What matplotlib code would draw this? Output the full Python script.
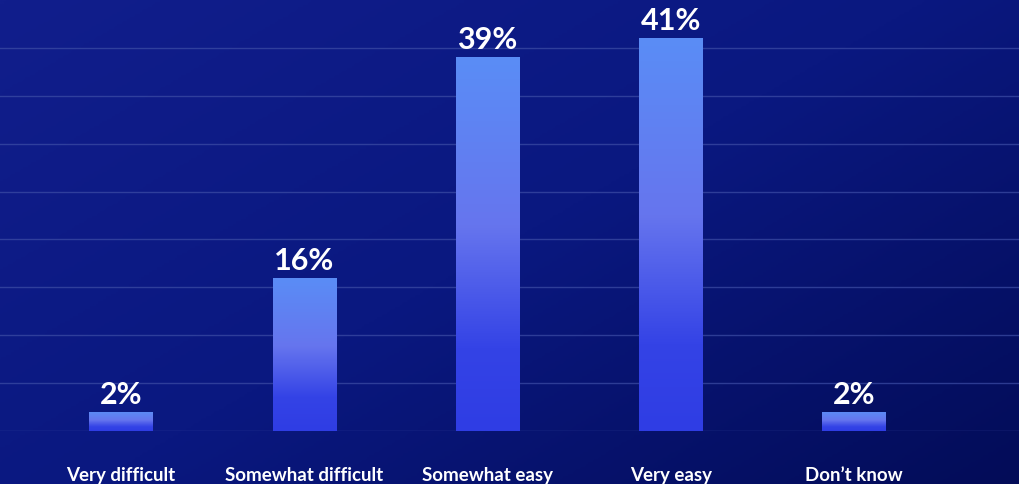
import numpy as np
import matplotlib
matplotlib.use("Agg")
import matplotlib.pyplot as plt
from matplotlib.colors import LinearSegmentedColormap

categories = ["Very difficult", "Somewhat difficult", "Somewhat easy", "Very easy", "Don\u2019t know"]
shares = [2, 16, 39, 41, 2]

FONT = ["Lato", "DejaVu Sans"]
plt.rcParams["font.family"] = FONT

W, H, DPI = 1019, 484, 100
fig = plt.figure(figsize=(W / DPI, H / DPI), dpi=DPI)

# ── background: diagonal navy gradient ────────────────────────────────────
bg = fig.add_axes([0, 0, 1, 1], zorder=0)
bg.axis("off")
yy, xx = np.mgrid[0:1:200j, 0:1:400j]
t = np.clip(0.55 * xx + 0.45 * yy, 0, 1)
bg_cmap = LinearSegmentedColormap.from_list("bg", ["#111e8c", "#0a1880", "#030c58"])
bg.imshow(t, cmap=bg_cmap, aspect="auto", extent=(0, 1, 0, 1), origin="upper")
bg.set_xlim(0, 1)
bg.set_ylim(0, 1)

# ── main chart ─────────────────────────────────────────────────────────────
base_frac = 53 / H
ax = fig.add_axes([0, base_frac, 1, 1 - base_frac], zorder=1)
ax.set_facecolor("none")
for s in ax.spines.values():
    s.set_visible(False)

x = np.arange(len(categories))
width = 0.345
xlim = (-0.66, 4.9)
ylim = (0, 45)

for g in range(0, 45, 5):
    ax.axhline(g, color="#3e4ea6", linewidth=1.0, alpha=0.7, zorder=1)

bar_cmap = LinearSegmentedColormap.from_list(
    "bar", [(0.0, "#2f3de4"), (0.22, "#3443e6"), (0.55, "#6675ee"), (1.0, "#5a8df6")])
grad = np.linspace(1, 0, 256).reshape(-1, 1)

bars = ax.bar(x, shares, width=width, color="none", edgecolor="none", zorder=2)
for b, v in zip(bars, shares):
    x0 = b.get_x()
    im = ax.imshow(grad, cmap=bar_cmap, aspect="auto", vmin=0, vmax=1,
                   extent=(x0, x0 + b.get_width(), 0, v), zorder=2)
    im.set_clip_path(b)
    ax.annotate(f"{v}%", (b.get_x() + b.get_width() / 2, v),
                xytext=(0, 3), textcoords="offset pixels",
                ha="center", va="bottom", color="white",
                fontsize=22, fontweight="bold", zorder=3)

ax.set_xlim(*xlim)
ax.set_ylim(*ylim)
ax.set_yticks([])
ax.set_xticks(x)
ax.set_xticklabels(categories, color="white", fontsize=13.5, fontweight="bold")
ax.tick_params(axis="x", length=0, pad=26)

fig.savefig("out.png", dpi=DPI)
